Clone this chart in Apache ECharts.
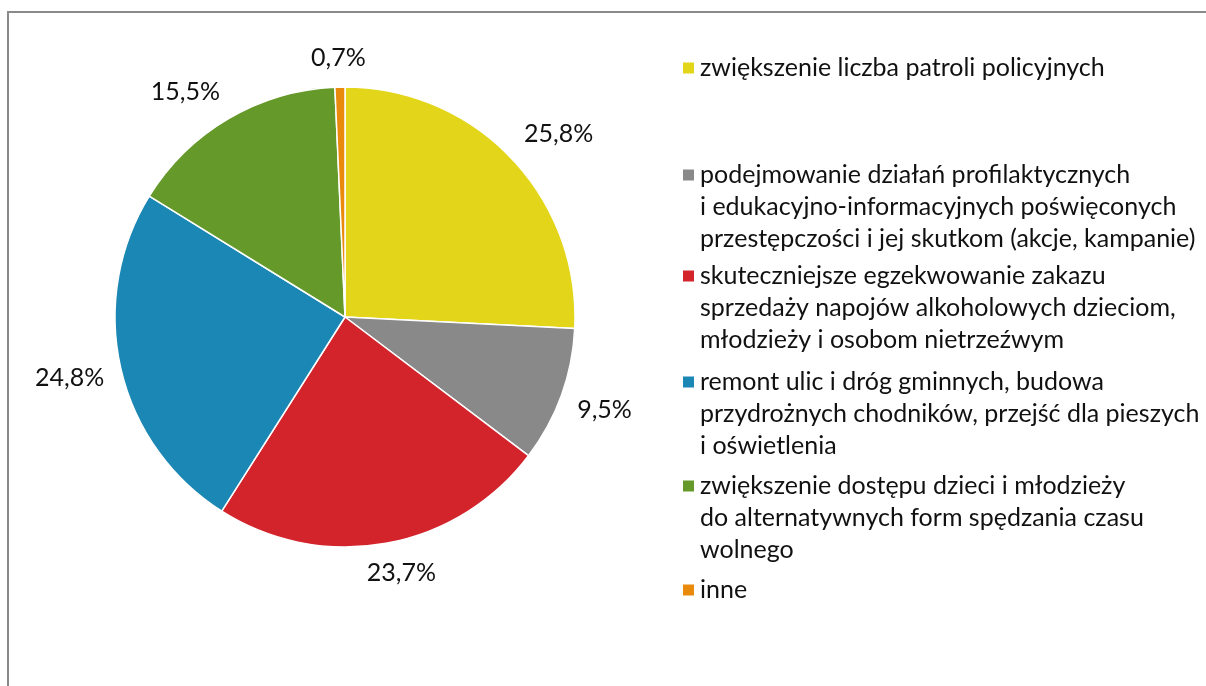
<!DOCTYPE html>
<html>
<head>
<meta charset="utf-8">
<script src="https://cdn.jsdelivr.net/npm/echarts@6/dist/echarts.min.js"></script>
<style>
  html, body { margin: 0; padding: 0; background: #fff; }
  #chart { width: 1206px; height: 686px; }
</style>
</head>
<body>
<div id="chart"></div>
<script>
// Category names, split into the lines shown in the legend
const categoryLines = [
  ['zwiększenie liczba patroli policyjnych'],
  ['podejmowanie działań profilaktycznych', 'i edukacyjno-informacyjnych poświęconych', 'przestępczości i jej skutkom (akcje, kampanie)'],
  ['skuteczniejsze egzekwowanie zakazu', 'sprzedaży napojów alkoholowych dzieciom,', 'młodzieży i osobom nietrzeźwym'],
  ['remont ulic i dróg gminnych, budowa', 'przydrożnych chodników, przejść dla pieszych', 'i oświetlenia'],
  ['zwiększenie dostępu dzieci i młodzieży', 'do alternatywnych form spędzania czasu', 'wolnego'],
  ['inne']
];
const categories = categoryLines.map(l => l.join(' '));
const shares = [25.8, 9.5, 23.7, 24.8, 15.5, 0.7];
const colors = ['#E3D51A', '#898989', '#D3232B', '#1B87B4', '#65992A', '#E98A0C'];

const FONT = 'Lato';
const FONT_SIZE = 25;
const CX = 345, CY = 317, RADIUS = 230;
const LABEL_GAP = 17;
const LINE_H = 32;
// vertical centre of each legend marker
const legendMarkerY = [68, 175, 276, 382, 486, 590];

// mid angle of every slice, clockwise from 12 o'clock
const total = shares.reduce((a, b) => a + b, 0);
let acc = 0;
const midAngles = shares.map(v => { const a = acc; acc += v; return (a + v / 2) / total * 2 * Math.PI; });

const fmt = v => v.toFixed(1).replace('.', ',') + '%';

// the legend text is centred on its marker, so leading blank lines
// bring the first line level with the marker
const legendText = name => {
  const lines = categoryLines[categories.indexOf(name)];
  return ' \n'.repeat(lines.length - 1) + lines.join('\n');
};

const legends = categoryLines.map((lines, i) => {
  const n = lines.length;
  return {
    orient: 'vertical',
    left: 681,
    top: legendMarkerY[i] - (2 * n - 1) * LINE_H / 2,
    padding: 0,
    itemWidth: 13,
    itemHeight: 13,
    itemGap: 0,
    icon: 'rect',
    selectedMode: false,
    formatter: legendText,
    textStyle: { fontFamily: FONT, fontSize: FONT_SIZE, color: '#111', lineHeight: LINE_H },
    data: [categories[i]]
  };
});

const chart = echarts.init(document.getElementById('chart'), null, { renderer: 'canvas' });
chart.setOption({
  backgroundColor: '#fff',
  animation: false,
  color: colors,
  legend: legends,
  graphic: [{
    type: 'polyline',
    shape: { points: [[8, 690], [8, 12], [1210, 12]] },
    style: { stroke: '#8a8a8a', lineWidth: 2, fill: null },
    silent: true
  }],
  series: [{
    type: 'pie',
    center: [CX, CY],
    radius: RADIUS,
    startAngle: 90,
    clockwise: true,
    avoidLabelOverlap: false,
    itemStyle: { borderColor: '#fff', borderWidth: 1.5 },
    label: {
      show: true,
      position: 'outside',
      formatter: p => fmt(p.value),
      fontFamily: FONT,
      fontSize: FONT_SIZE,
      color: '#111'
    },
    labelLine: { show: false },
    labelLayout: function (p) {
      const a = midAngles[p.dataIndex];
      const dx = Math.sin(a), dy = -Math.cos(a);
      const r = RADIUS + LABEL_GAP;
      const w = p.labelRect.width, h = p.labelRect.height;
      const s = v => Math.max(-1, Math.min(1, v * 2));
      return {
        x: CX + r * dx + s(dx) * w / 2,
        y: CY + r * dy + s(dy) * h / 2,
        align: 'center',
        verticalAlign: 'middle'
      };
    },
    data: categories.map((name, i) => ({ name: name, value: shares[i] }))
  }]
});
</script>
</body>
</html>
